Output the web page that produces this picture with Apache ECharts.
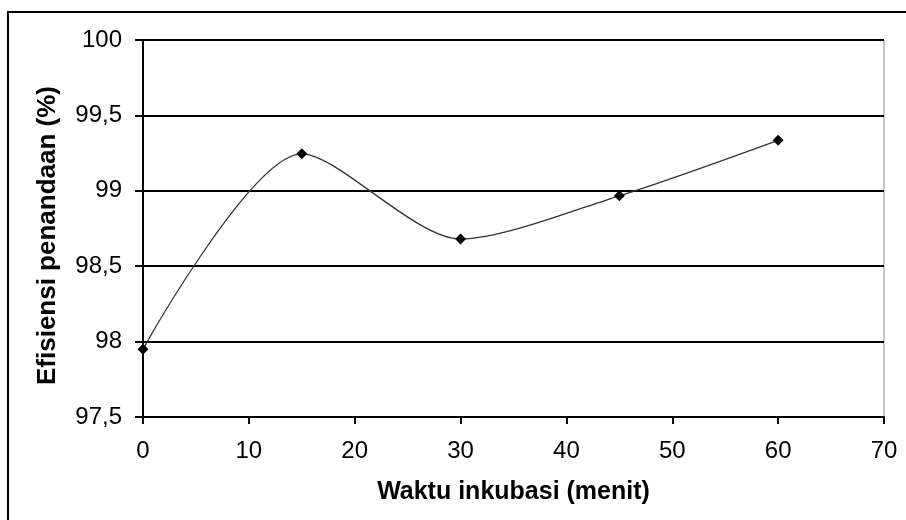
<!DOCTYPE html>
<html>
<head>
<meta charset="utf-8">
<script src="https://cdn.jsdelivr.net/npm/echarts@6/dist/echarts.min.js"></script>
<style>
html,body{margin:0;padding:0;background:#fff;}
#chart{width:906px;height:520px;}
</style>
</head>
<body>
<div id="chart"></div>
<script>
var timeMinutes = [0, 15, 30, 45, 60];
var efficiency = [97.95, 99.245, 98.68, 98.967, 99.335];
var xTitle = 'Waktu inkubasi (menit)';
var yTitle = 'Efisiensi penandaan (%)';

var points = timeMinutes.map(function (t, i) { return [t, efficiency[i]]; });
var chart = echarts.init(document.getElementById('chart'));
var font = '"Liberation Sans", Arial, sans-serif';
chart.setOption({
  animation: false,
  backgroundColor: '#fff',
  graphic: [{
    type: 'rect',
    shape: { x: 8, y: 12, width: 920, height: 540 },
    style: { fill: 'none', stroke: '#000', lineWidth: 2 },
    silent: true
  }],
  grid: {
    left: 143, top: 40, right: 22, bottom: 103,
    show: true, borderColor: '#8c8c8c', borderWidth: 1, backgroundColor: 'transparent'
  },
  xAxis: {
    type: 'value', min: 0, max: 70, interval: 10,
    name: xTitle, nameLocation: 'middle', nameGap: 63,
    nameTextStyle: { fontFamily: font, fontWeight: 'bold', fontSize: 25, color: '#000' },
    axisLine: { show: true, lineStyle: { color: '#000', width: 2 } },
    axisTick: { show: true, inside: false, length: 7, lineStyle: { color: '#000', width: 2 } },
    axisLabel: { fontFamily: font, fontSize: 24, color: '#000', margin: 22 },
    splitLine: { show: false }
  },
  yAxis: {
    type: 'value', min: 97.5, max: 100, interval: 0.5,
    name: yTitle, nameLocation: 'middle', nameGap: 82, nameRotate: 90,
    nameTextStyle: { fontFamily: font, fontWeight: 'bold', fontSize: 26, color: '#000', padding: [0, 14, 0, 0] },
    axisLine: { show: true, lineStyle: { color: '#000', width: 2 } },
    axisTick: { show: true, inside: false, length: 8, lineStyle: { color: '#000', width: 2 } },
    axisLabel: {
      fontFamily: font, fontSize: 24, color: '#000', margin: 21,
      formatter: function (v) { return String(v).replace('.', ','); }
    },
    splitLine: { show: true, lineStyle: { color: '#000', width: 2 } }
  },
  series: [{
    type: 'line',
    data: points,
    smooth: 0.27,
    symbol: 'diamond',
    symbolSize: 11,
    itemStyle: { color: '#000' },
    lineStyle: { color: '#333', width: 1.3 },
    z: 5
  }]
});
</script>
</body>
</html>
